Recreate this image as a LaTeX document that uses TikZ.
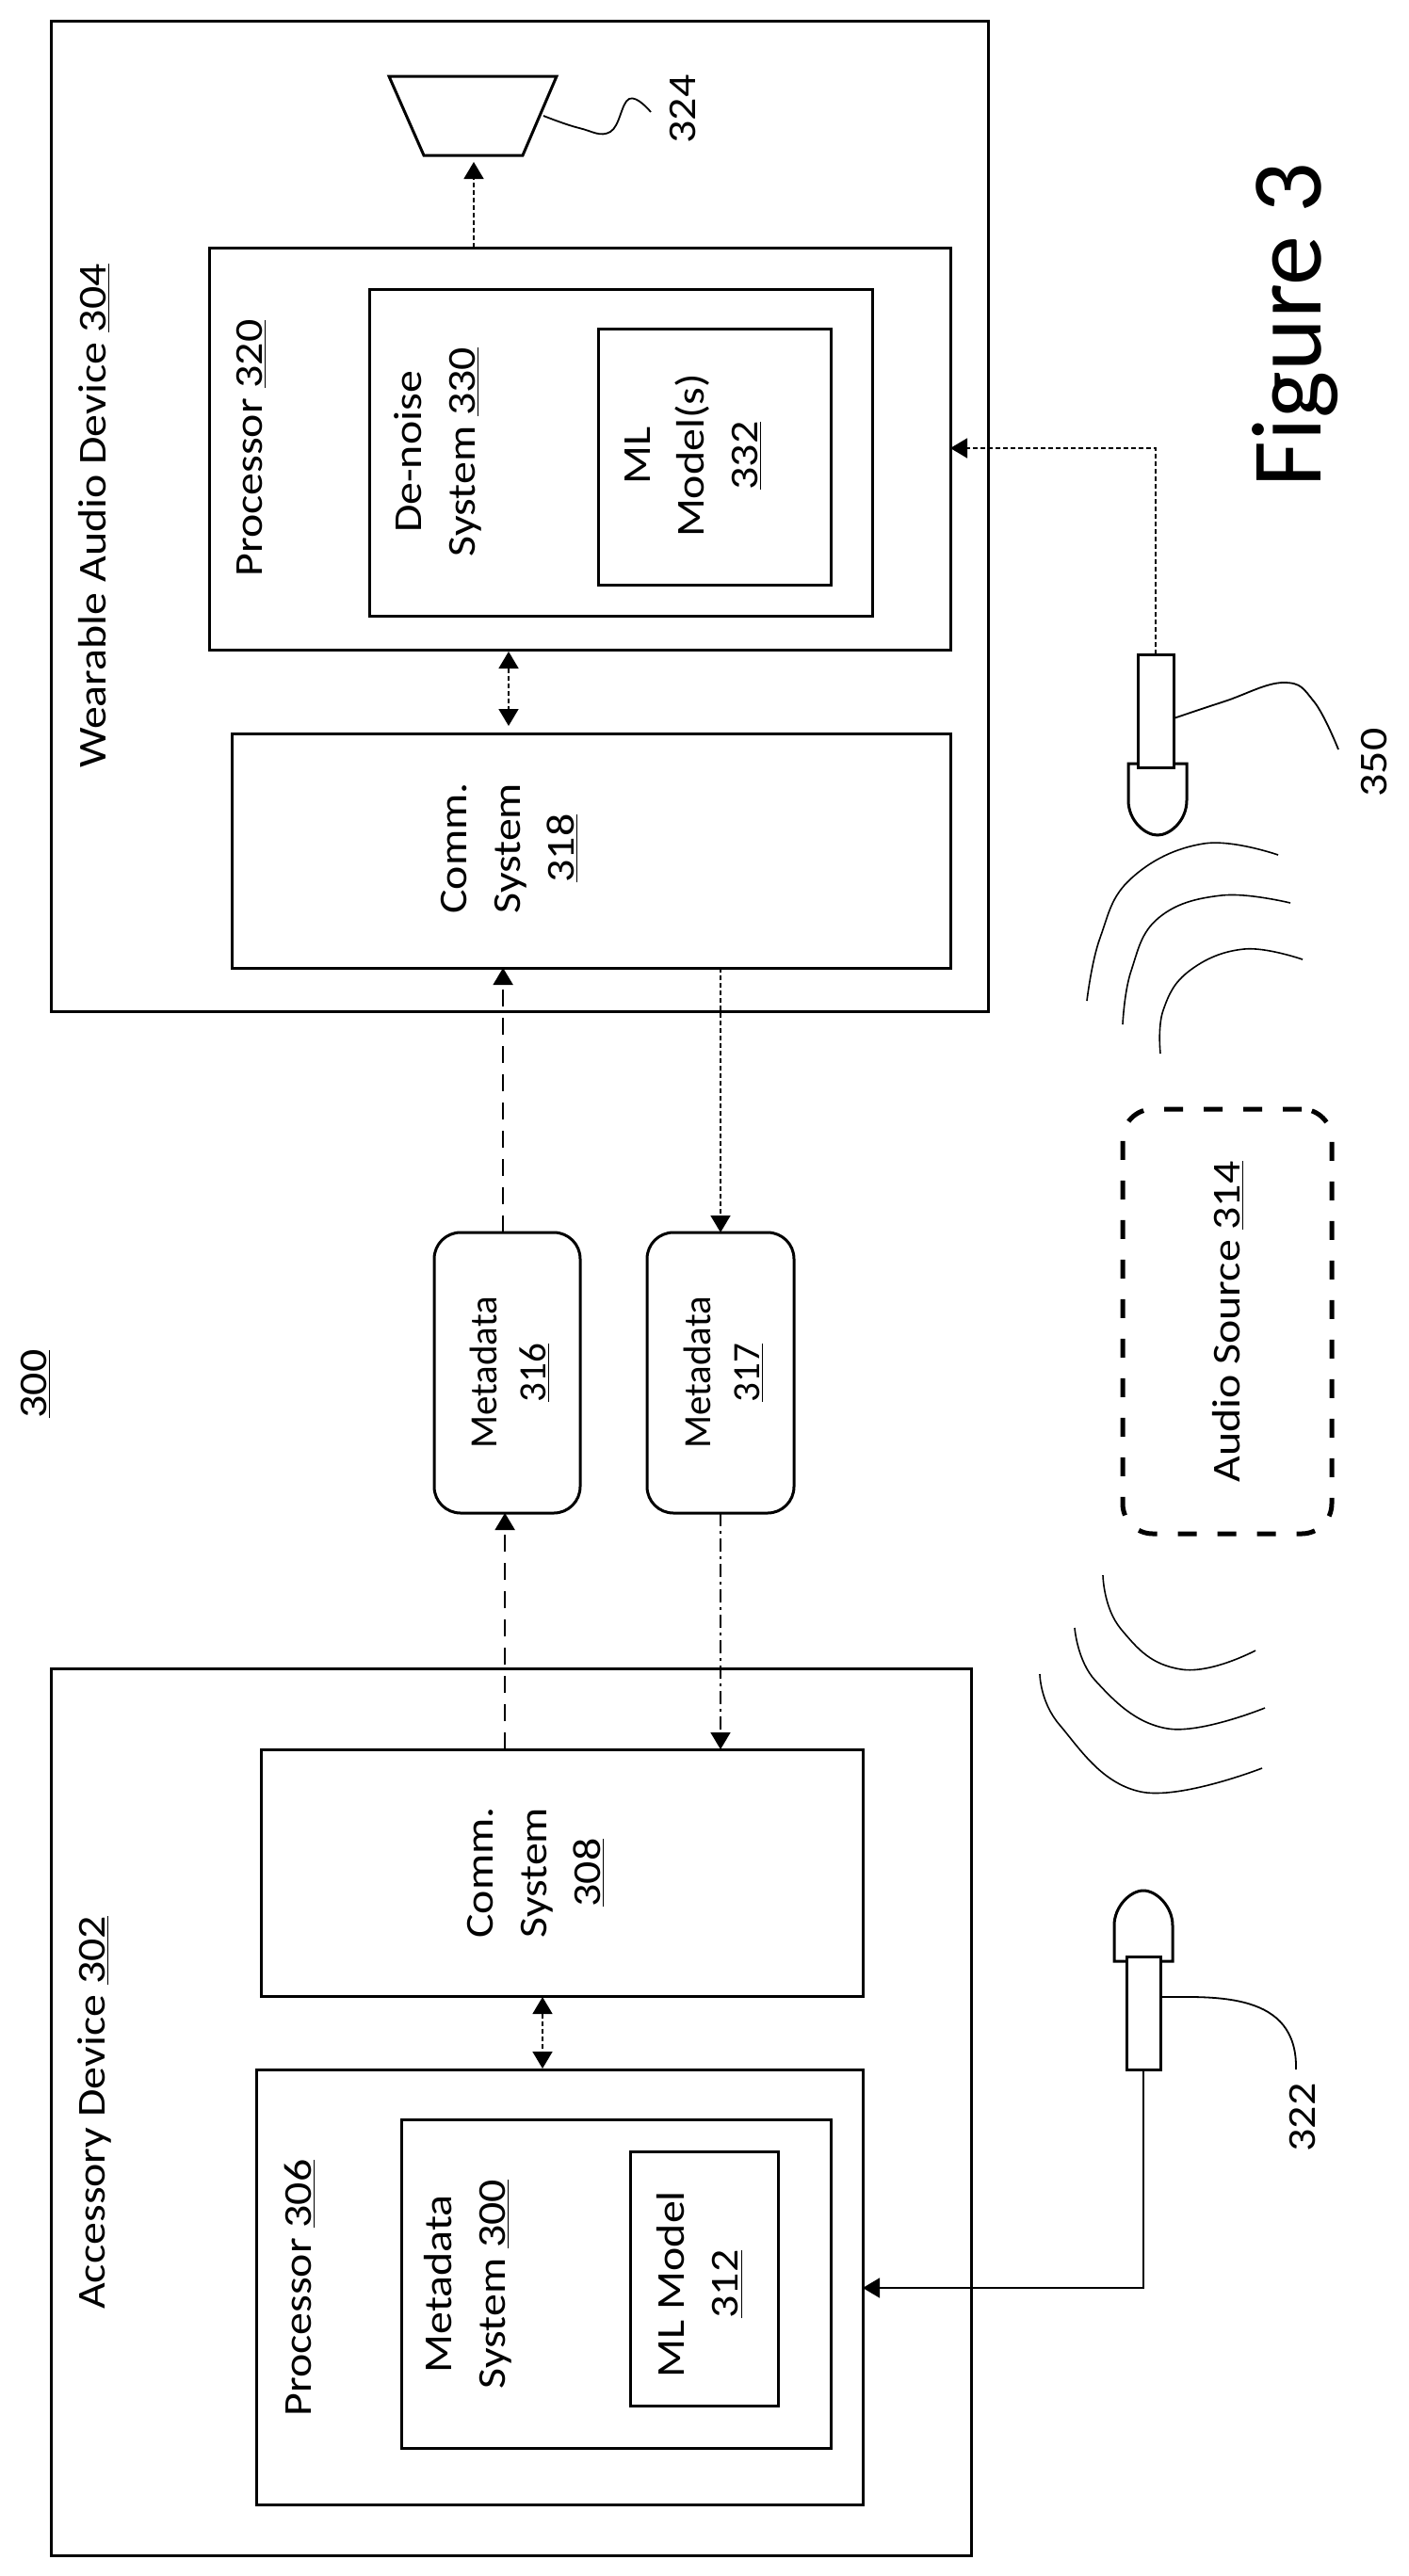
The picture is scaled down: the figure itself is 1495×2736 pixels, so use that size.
\documentclass[tikz,border=0pt]{standalone}
\usepackage{fontspec}
\setmainfont{Carlito}
\newfontfamily\labfont[FakeStretch=1.14]{Carlito}
\usetikzlibrary{arrows.meta}
\newcommand{\pxbox}[6]{\node[#1,minimum width={(#4-#2)*0.5pt},minimum height={(#5-#3)*0.5pt}] (#6) at ({(#2+#4)/2},{(#3+#5)/2}) {};}
\tikzset{
  boxa/.style={draw=black,line width=1.5pt,inner sep=0pt,outer sep=0pt,rectangle},
  roundbox/.style={boxa,rounded corners=14pt},
  audiobox/.style={draw=black,line width=2.5pt,inner sep=0pt,outer sep=0pt,rectangle,rounded corners=16pt,dash pattern=on 10pt off 11pt},
  lab/.style={rotate=90,inner sep=0pt,outer sep=0pt,align=center,font=\labfont\fontsize{21}{28.5}\selectfont},
  labtight/.style={lab,font=\fontsize{20.5}{26}\selectfont},
  conn/.style={draw=black,line width=0.8pt,-{Triangle[length=9pt,width=10.5pt]}},
  conndash/.style={conn,dash pattern=on 2.5pt off 1.5pt},
  connlong/.style={conn,line width=1pt,dash pattern=on 9pt off 6pt},
  conndot/.style={conn,dash pattern=on 7pt off 2.5pt on 1.5pt off 2.5pt},
  twoway/.style={conndash,{Triangle[length=9pt,width=10.5pt]}-{Triangle[length=9pt,width=10.5pt]}},
  leader/.style={draw=black,line width=0.9pt},
  wave/.style={draw=black,line width=0.8pt},
  micline/.style={draw=black,line width=1.5pt},
}
\begin{document}
\begin{tikzpicture}[x=0.5pt,y=-0.5pt]
\useasboundingbox (0,0) rectangle (1495,2736);
\fill[white] (0,0) rectangle (1495,2736);
% Wearable device
\pxbox{boxa}{54}{22}{1049}{1074}{wad}
\pxbox{boxa}{222}{263}{1009}{690}{p320}
\pxbox{boxa}{392}{307}{926}{654}{d330}
\pxbox{boxa}{635}{349}{882}{621}{ml332}
\pxbox{boxa}{246}{779}{1009}{1028}{c318}
\node[lab] (lwad) at (100,548) {Wearable Audio Device \underline{304}};
\node[lab] (lp320) at (267,476) {Processor \underline{320}};
\node[lab] (ld330) at (465,480) {De-noise\\System \underline{330}};
\node[lab] (lml332) at (736,484) {ML\\Model(s)\\\underline{332}};
\node[lab] (lc318) at (541,901) {Comm.\\System\\\underline{318}};
% Speaker
\draw[micline] (413,81) -- (591,81) -- (555,165) -- (450,165) -- cycle;
\coordinate (spk) at (503,165);
\coordinate (spkl) at (577,123);
\draw[leader] plot[smooth,tension=0.7] coordinates {(spkl) (615,136) (648,140) (668,105) (691,119)};
\node[lab] (l324) at (725,116) {324};
% Accessory device
\pxbox{boxa}{54}{1772}{1031}{2714}{acc}
\pxbox{boxa}{277}{1858}{916}{2120}{c308}
\pxbox{boxa}{272}{2198}{916}{2660}{p306}
\pxbox{boxa}{426}{2251}{882}{2600}{m300}
\pxbox{boxa}{669}{2285}{826}{2555}{ml312}
\node[lab] (lacc) at (100,2244) {Accessory Device \underline{302}};
\node[lab] (lp306) at (318,2430) {Processor \underline{306}};
\node[lab] (lm300) at (497,2426) {Metadata\\System \underline{300}};
\node[lab] (lml312) at (743,2426) {ML Model\\\underline{312}};
\node[lab] (lc308) at (569,1989) {Comm.\\System\\\underline{308}};
% Metadata
\pxbox{roundbox}{461}{1309}{616}{1607}{m316}
\pxbox{roundbox}{687}{1309}{843}{1607}{m317}
\node[labtight] (lm316) at (541,1458) {Metadata\\\underline{316}};
\node[labtight] (lm317) at (768,1458) {Metadata\\\underline{317}};
\node[lab] (l300) at (38,1470) {\underline{300}};
% Audio source
\pxbox{audiobox}{1192}{1178}{1414}{1629}{aud}
\node[lab] (laud) at (1304,1404) {Audio Source \underline{314}};
% Microphones
\pxbox{boxa}{1208}{695}{1246}{815}{m350}
\draw[micline] (1246,811) -- (1260,811) -- (1260,850) .. controls (1260,872) and (1242,887) .. (1229,887) .. controls (1216,887) and (1198,872) .. (1198,850) -- (1198,811) -- (1208,811);
\pxbox{boxa}{1196}{2078}{1232}{2198}{m322}
\draw[micline] (1232,2083) -- (1245,2083) -- (1245,2045) .. controls (1245,2025) and (1228,2008) .. (1214,2008) .. controls (1200,2008) and (1183,2025) .. (1183,2045) -- (1183,2083) -- (1196,2083);
\node[lab] (l350) at (1459,810) {350};
\node[lab] (l322) at (1383,2249) {322};
\node[rotate=90,inner sep=0pt,outer sep=0pt,anchor=base,font=\fontsize{53}{60}\selectfont] (fig) at (1402,345) {Figure 3};
% Leaders
\draw[leader] plot[smooth,tension=0.7] coordinates {(m350.east |- 0,763) (1300,745) (1363,725) (1395,745) (1421,796)};
\draw[leader] (m322.east |- 0,2121) .. controls (1290,2121) and (1378,2115) .. (1376,2198);
% Connectors
\coordinate (y350) at (0,476);
\coordinate (y322) at (0,2430);
\draw[conndash,shorten >=3.5pt] (p320.north -| spk) -- (spk);
\draw[conndash] (m350.north) |- (p320.east |- y350);
\draw[micline,line width=0.8pt,-{Triangle[length=9pt,width=10.5pt]}] (m322.south) |- (p306.east |- y322);
\draw[twoway,shorten <=1pt,shorten >=4pt] (p320.south -| 540,0) -- (c318.north -| 540,0);
\draw[twoway,shorten <=0.5pt,shorten >=0.5pt] (c308.south -| 576,0) -- (p306.north -| 576,0);
\draw[connlong] ([xshift=-2.2pt]m316.north) -- ([xshift=-2.2pt]m316.north |- c318.south);
\draw[connlong] (c308.north -| m316.south) ++(-1.2pt,0) -- ([xshift=-1.2pt]m316.south);
\draw[conndash] (c318.south -| m317.north) -- (m317.north);
\draw[conndot] (m317.south) -- (c308.north -| m317.south);
% Sound waves
\draw[wave] plot[smooth,tension=0.7] coordinates {(1357,908) (1278,896) (1201,933) (1168,996) (1154,1063)};
\draw[wave] plot[smooth,tension=0.7] coordinates {(1370,959) (1297,951) (1230,975) (1201,1031) (1192,1088)};
\draw[wave] plot[smooth,tension=0.7] coordinates {(1383,1019) (1321,1008) (1263,1031) (1235,1073) (1232,1119)};
\draw[wave] plot[smooth,tension=0.8] coordinates {(1171,1673) (1190,1730) (1254,1773) (1333,1753)};
\draw[wave] plot[smooth,tension=0.7] coordinates {(1141,1729) (1163,1785) (1240,1836) (1343,1814)};
\draw[wave] plot[smooth,tension=0.7] coordinates {(1104,1778) (1125,1832) (1211,1903) (1340,1878)};
\end{tikzpicture}
\end{document}
